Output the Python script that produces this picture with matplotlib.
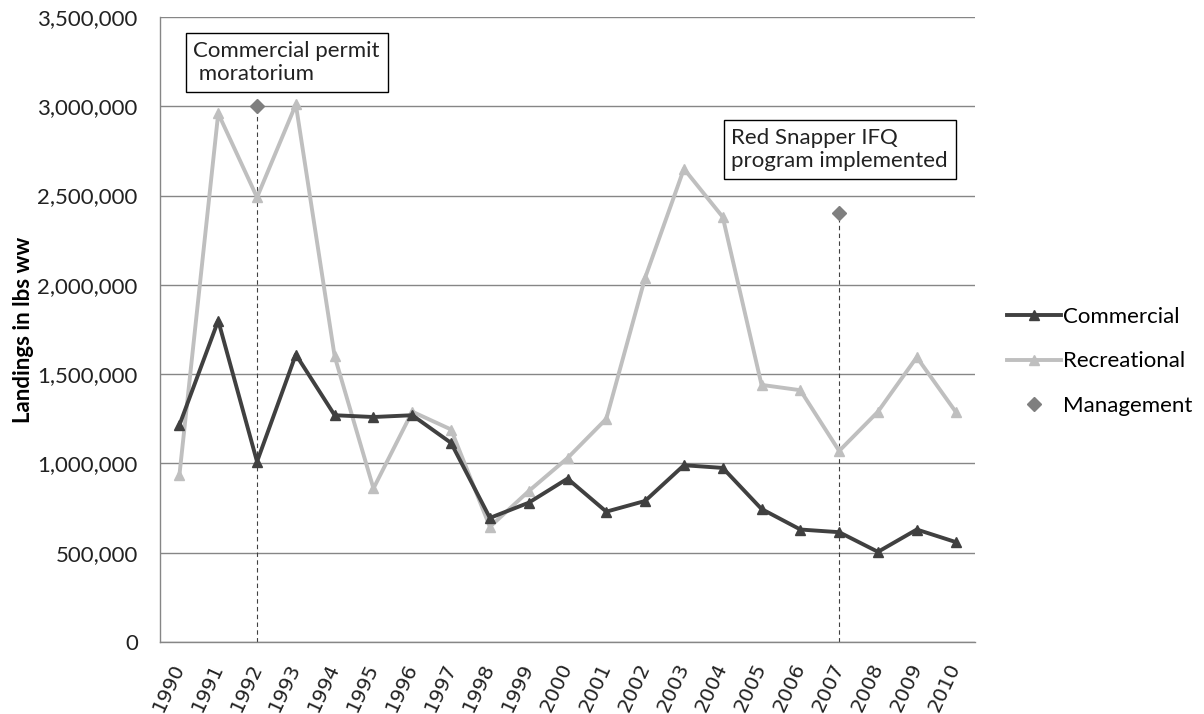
import numpy as np
import matplotlib.pyplot as plt
from matplotlib.ticker import FuncFormatter

# ---- data (lbs ww) ----
years = list(range(1990, 2011))
commercial = [1215000, 1800000, 1010000, 1610000, 1270000, 1260000, 1270000,
              1115000, 695000, 780000, 915000, 730000, 790000, 990000,
              975000, 745000, 630000, 615000, 505000, 630000, 560000]
recreational = [935000, 2960000, 2490000, 3010000, 1600000, 860000, 1290000,
                1190000, 645000, 845000, 1030000, 1250000, 2040000, 2650000,
                2380000, 1440000, 1410000, 1070000, 1290000, 1595000, 1290000]
mgmt_years = [1992, 2007]
mgmt_values = [3000000, 2400000]
mgmt_notes = ["Commercial permit\n moratorium", "Red Snapper IFQ\nprogram implemented"]

main_font = ['Lato', 'DejaVu Sans']

fig = plt.figure(figsize=(12.04, 7.14), dpi=100)
ax = fig.add_axes([0.1329, 0.1008, 0.6769, 0.8754])

ax.plot(years, commercial, color='#404040', lw=2.8, marker='^', ms=7,
        label='Commercial', zorder=4)
ax.plot(years, recreational, color='#BFBFBF', lw=2.8, marker='^', ms=7,
        label='Recreational', zorder=3)
ax.vlines(mgmt_years, 0, mgmt_values, colors='#404040', lw=0.8,
          linestyles=(0, (4, 3)), zorder=2)
ax.plot(mgmt_years, mgmt_values, ls='none', marker='D', ms=7,
        color='#7F7F7F', label='Management', zorder=5)

# annotation boxes
box = dict(boxstyle='square,pad=0.35', fc='white', ec='black', lw=1)
ax.text(0.041, 0.962, mgmt_notes[0], transform=ax.transAxes, ha='left', va='top',
        fontsize=16, family=main_font, linespacing=1.2, color='#222222', bbox=box)
ax.text(0.701, 0.822, mgmt_notes[1], transform=ax.transAxes, ha='left', va='top',
        fontsize=16, family=main_font, linespacing=1.2, color='#222222', bbox=box)

ax.set_xlim(1989.5, 2010.5)
ax.set_ylim(0, 3500000)
ax.set_yticks(np.arange(0, 3500001, 500000))
ax.yaxis.set_major_formatter(FuncFormatter(lambda v, p: f"{int(v):,}"))
ax.set_xticks(years)
ax.set_xticklabels([str(y) for y in years], rotation=65, ha='right', va='center',
                   rotation_mode='anchor', fontsize=14.5, family='DejaVu Sans')
for lab in ax.get_yticklabels():
    lab.set_family(main_font)
    lab.set_fontsize(16)
ax.tick_params(axis='both', length=0, colors='#222222')
ax.tick_params(axis='y', pad=16)
ax.tick_params(axis='x', pad=16)

ax.grid(axis='y', color='#868686', lw=1)
ax.set_axisbelow(True)
for s in ['top', 'right']:
    ax.spines[s].set_visible(False)
for s in ['left', 'bottom']:
    ax.spines[s].set_color('#868686')
    ax.spines[s].set_linewidth(1)

ax.set_ylabel('Landings in lbs ww', fontsize=16, fontweight='bold',
              family=main_font)
ax.yaxis.set_label_coords(-0.155, 0.5)

fig.legend(loc='center left', bbox_to_anchor=(0.820, 0.494), frameon=False,
           prop={'family': main_font, 'size': 16}, handlelength=2.4,
           handletextpad=0.1, labelspacing=1.1)

fig.savefig('out.png', dpi=100)
